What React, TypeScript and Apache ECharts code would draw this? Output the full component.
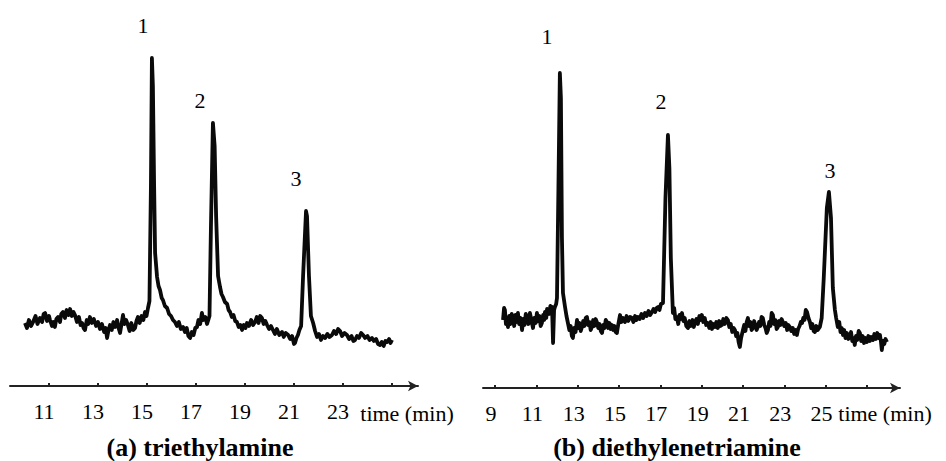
import React, { useEffect, useRef } from "react";
import * as echarts from "echarts";

// Panel (a) triethylamine: [retention time (min), detector signal (arb. units)]
const traceA: number[][] = [
  [10.02, 63], [10.1, 58], [10.18, 66], [10.27, 60], [10.35, 64], [10.45, 70], [10.53, 62], [10.63, 68],
  [10.72, 64], [10.78, 72], [10.84, 73], [10.92, 65], [11.0, 70], [11.04, 66], [11.12, 60], [11.18, 64],
  [11.24, 59], [11.3, 67], [11.37, 69], [11.45, 64], [11.5, 72], [11.57, 74], [11.65, 68], [11.72, 76],
  [11.8, 71], [11.86, 77], [11.93, 70], [12.0, 74], [12.06, 71], [12.14, 64], [12.22, 69], [12.29, 61],
  [12.35, 63], [12.41, 58], [12.47, 56], [12.54, 66], [12.6, 62], [12.67, 69], [12.75, 63], [12.83, 67],
  [12.92, 60], [13.0, 64], [13.08, 57], [13.16, 62], [13.25, 54], [13.31, 58], [13.37, 48], [13.43, 56],
  [13.49, 61], [13.56, 56], [13.63, 64], [13.7, 59], [13.78, 66], [13.84, 58], [13.9, 53], [13.96, 62],
  [14.02, 71], [14.08, 62], [14.15, 66], [14.22, 61], [14.29, 55], [14.36, 63], [14.44, 56], [14.51, 58],
  [14.57, 65], [14.63, 69], [14.7, 63], [14.78, 70], [14.85, 66], [14.92, 74], [14.98, 70], [15.04, 78],
  [15.1, 85], [15.16, 200], [15.2, 328], [15.24, 300], [15.29, 200], [15.33, 133], [15.41, 109], [15.47, 100],
  [15.53, 96], [15.6, 88], [15.65, 86], [15.73, 80], [15.82, 78], [15.9, 72], [15.98, 70], [16.06, 66],
  [16.14, 64], [16.22, 60], [16.3, 64], [16.38, 57], [16.47, 59], [16.55, 54], [16.62, 58], [16.69, 50],
  [16.76, 48], [16.83, 54], [16.9, 51], [16.97, 58], [17.04, 59], [17.1, 66], [17.17, 62], [17.24, 73],
  [17.3, 66], [17.38, 69], [17.45, 62], [17.55, 70], [17.61, 160], [17.69, 263], [17.76, 240], [17.82, 170],
  [17.9, 110], [17.98, 99], [18.04, 92], [18.1, 89], [18.18, 84], [18.27, 82], [18.33, 76], [18.39, 74],
  [18.46, 69], [18.53, 71], [18.6, 65], [18.67, 64], [18.74, 59], [18.81, 61], [18.88, 56], [18.95, 61],
  [19.02, 58], [19.08, 63], [19.16, 60], [19.25, 66], [19.33, 61], [19.41, 64], [19.48, 69], [19.55, 63],
  [19.62, 70], [19.69, 68], [19.76, 62], [19.83, 65], [19.9, 61], [19.98, 57], [20.06, 60], [20.14, 56],
  [20.22, 52], [20.3, 57], [20.4, 51], [20.51, 54], [20.58, 49], [20.66, 53], [20.76, 51], [20.84, 47],
  [20.92, 50], [21.0, 42], [21.04, 43], [21.1, 48], [21.16, 51], [21.22, 56], [21.29, 60], [21.37, 110],
  [21.49, 175], [21.53, 170], [21.61, 110], [21.69, 70], [21.78, 63], [21.86, 55], [21.94, 49], [22.02, 52],
  [22.1, 46], [22.18, 50], [22.27, 48], [22.36, 52], [22.45, 49], [22.55, 51], [22.63, 55], [22.72, 52],
  [22.8, 57], [22.88, 55], [22.96, 50], [23.06, 53], [23.16, 51], [23.25, 47], [23.35, 50], [23.42, 45],
  [23.49, 46], [23.57, 50], [23.65, 48], [23.74, 53], [23.82, 51], [23.9, 48], [24.0, 50], [24.08, 46],
  [24.18, 48], [24.26, 45], [24.35, 47], [24.43, 42], [24.51, 41], [24.58, 44], [24.66, 40], [24.73, 45],
  [24.8, 44], [24.88, 47], [24.94, 43], [25.0, 46],
];

// Panel (b) diethylenetriamine
const traceB: number[][] = [
  [9.39, 68], [9.44, 80], [9.48, 78], [9.53, 64], [9.58, 70], [9.63, 61], [9.69, 72], [9.75, 64],
  [9.81, 74], [9.87, 68], [9.93, 62], [9.99, 73], [10.05, 66], [10.11, 75], [10.17, 64], [10.24, 70],
  [10.31, 58], [10.37, 69], [10.43, 63], [10.49, 74], [10.55, 71], [10.62, 64], [10.69, 75], [10.76, 68],
  [10.84, 60], [10.9, 70], [10.97, 65], [11.03, 75], [11.09, 67], [11.15, 72], [11.21, 62], [11.27, 65],
  [11.33, 73], [11.38, 68], [11.42, 76], [11.48, 70], [11.52, 79], [11.56, 78], [11.62, 74], [11.68, 82],
  [11.74, 77], [11.76, 81], [11.81, 45], [11.86, 78], [11.9, 81], [11.96, 84], [12.0, 90], [12.07, 200],
  [12.14, 315], [12.19, 290], [12.24, 150], [12.29, 95], [12.34, 88], [12.39, 81], [12.46, 72], [12.53, 65],
  [12.6, 58], [12.66, 62], [12.72, 52], [12.77, 50], [12.83, 60], [12.9, 56], [12.97, 68], [13.03, 60],
  [13.09, 65], [13.15, 57], [13.21, 61], [13.27, 67], [13.33, 62], [13.39, 70], [13.45, 71], [13.51, 63],
  [13.57, 66], [13.63, 58], [13.69, 61], [13.75, 68], [13.81, 62], [13.87, 69], [13.93, 66], [14.0, 60],
  [14.06, 64], [14.12, 57], [14.18, 55], [14.24, 63], [14.3, 60], [14.36, 68], [14.42, 66], [14.48, 60],
  [14.54, 65], [14.6, 59], [14.66, 63], [14.72, 58], [14.78, 62], [14.84, 56], [14.9, 55], [14.97, 64],
  [15.05, 73], [15.12, 66], [15.2, 70], [15.29, 66], [15.37, 72], [15.45, 67], [15.54, 71], [15.63, 70],
  [15.7, 66], [15.78, 72], [15.85, 68], [15.92, 71], [16.0, 69], [16.09, 74], [16.17, 70], [16.26, 75],
  [16.34, 72], [16.43, 77], [16.51, 73], [16.6, 76], [16.67, 79], [16.75, 76], [16.82, 80], [16.89, 81],
  [16.96, 78], [17.03, 84], [17.13, 85], [17.25, 190], [17.37, 253], [17.44, 220], [17.51, 130], [17.61, 75],
  [17.67, 80], [17.73, 69], [17.8, 71], [17.87, 64], [17.93, 73], [17.99, 69], [18.05, 75], [18.12, 67],
  [18.18, 70], [18.26, 62], [18.34, 60], [18.41, 67], [18.48, 62], [18.56, 68], [18.62, 61], [18.68, 65],
  [18.75, 69], [18.82, 64], [18.89, 72], [18.95, 68], [19.01, 73], [19.08, 66], [19.15, 70], [19.22, 63],
  [19.3, 65], [19.37, 60], [19.44, 66], [19.5, 59], [19.57, 64], [19.64, 61], [19.71, 66], [19.78, 60],
  [19.85, 67], [19.91, 62], [19.98, 63], [20.05, 69], [20.12, 64], [20.2, 70], [20.27, 68], [20.34, 61],
  [20.41, 64], [20.48, 56], [20.55, 60], [20.61, 58], [20.67, 52], [20.73, 55], [20.79, 46], [20.85, 41],
  [20.91, 50], [21.0, 58], [21.06, 63], [21.12, 57], [21.18, 66], [21.24, 70], [21.3, 62], [21.36, 66],
  [21.42, 58], [21.48, 60], [21.54, 67], [21.6, 63], [21.66, 58], [21.72, 61], [21.78, 66], [21.84, 62],
  [21.9, 71], [21.96, 70], [22.03, 63], [22.09, 60], [22.15, 55], [22.21, 58], [22.27, 66], [22.33, 62],
  [22.39, 75], [22.45, 73], [22.51, 64], [22.57, 68], [22.63, 59], [22.69, 61], [22.75, 67], [22.81, 63],
  [22.87, 69], [22.93, 66], [23.0, 62], [23.07, 65], [23.14, 58], [23.2, 63], [23.27, 61], [23.34, 57],
  [23.41, 60], [23.48, 54], [23.55, 58], [23.61, 53], [23.67, 59], [23.74, 62], [23.8, 66], [23.86, 65],
  [23.92, 70], [23.98, 68], [24.04, 78], [24.1, 76], [24.17, 70], [24.24, 66], [24.3, 60], [24.36, 64],
  [24.42, 57], [24.48, 56], [24.55, 62], [24.62, 58], [24.72, 61], [24.81, 70], [24.91, 110], [25.06, 180],
  [25.16, 196], [25.26, 170], [25.35, 100], [25.45, 78], [25.51, 70], [25.59, 61], [25.66, 66], [25.72, 56],
  [25.78, 60], [25.84, 53], [25.9, 58], [25.96, 50], [26.03, 55], [26.1, 49], [26.17, 51], [26.23, 56],
  [26.29, 47], [26.35, 50], [26.41, 43], [26.47, 52], [26.53, 48], [26.6, 57], [26.66, 55], [26.72, 47],
  [26.79, 52], [26.86, 45], [26.93, 50], [27.0, 46], [27.07, 52], [27.14, 47], [27.21, 51], [27.29, 48],
  [27.36, 54], [27.43, 49], [27.5, 55], [27.56, 50], [27.63, 53], [27.68, 46], [27.72, 38], [27.78, 47],
  [27.84, 44], [27.9, 49], [27.97, 46],
];

const ticksA = [11, 13, 15, 17, 19, 21, 23, 25];
const labelsA = [11, 13, 15, 17, 19, 21, 23];
const ticksB = [9, 11, 13, 15, 17, 19, 21, 23, 25, 27];
const labelsB = [9, 11, 13, 15, 17, 19, 21, 23, 25];

const peakLabels = ["1", "2", "3"];
const axisName = "time (min)";
const titleA = "(a) triethylamine";
const titleB = "(b) diethylenetriamine";

const FONT = "Liberation Serif";

export default function App() {
  const ref = useRef<HTMLDivElement>(null);
  useEffect(() => {
    if (!ref.current) return;
    const chart = echarts.init(ref.current, null, { renderer: "svg" });
    const xAxisCommon = (ticks: number[], labels: number[], pad: number) => ({
      type: "value",
      axisLine: {
        show: true,
        onZero: false,
        symbol: ["none", "arrow"],
        symbolSize: [8, 10],
        lineStyle: { color: "#222", width: 2 },
      },
      axisTick: {
        show: true,
        customValues: ticks,
        inside: true,
        length: 3,
        lineStyle: { color: "#222", width: 2 },
      },
      axisLabel: {
        show: true,
        customValues: labels,
        margin: 14,
        color: "#000",
        fontFamily: FONT,
        fontSize: 22,
        padding: [0, pad, 0, 0],
      },
      splitLine: { show: false },
    });
    const seriesCommon = {
      type: "line",
      showSymbol: false,
      smooth: false,
      lineStyle: { color: "#0a0a0a", width: 3.8, join: "round" },
      silent: true,
    };
    const txt = (x: number, y: number, s: string, size: number, bold = false) => ({
      type: "text",
      x,
      y,
      style: {
        text: s,
        fontFamily: FONT,
        fontSize: size,
        fontWeight: bold ? "bold" : "normal",
        fill: "#000",
        align: "center",
        verticalAlign: "middle",
      },
    });
    chart.setOption({
      animation: false,
      backgroundColor: "#fff",
      textStyle: { fontFamily: FONT },
      grid: [
        { left: 10, top: 6, width: 408, height: 380 },
        { left: 483, top: 8, width: 417, height: 380 },
      ],
      xAxis: [
        { ...xAxisCommon(ticksA, labelsA, 10), gridIndex: 0, min: 9.408, max: 26.06 },
        { ...xAxisCommon(ticksB, labelsB, 8), gridIndex: 1, min: 8.42, max: 28.6 },
      ],
      yAxis: [
        { type: "value", gridIndex: 0, min: 0, max: 380, show: false },
        { type: "value", gridIndex: 1, min: 0, max: 380, show: false },
      ],
      series: [
        { ...seriesCommon, xAxisIndex: 0, yAxisIndex: 0, data: traceA },
        { ...seriesCommon, xAxisIndex: 1, yAxisIndex: 1, data: traceB },
      ],
      graphic: [
        txt(143, 25, peakLabels[0], 22),
        txt(200, 100, peakLabels[1], 22),
        txt(296, 178, peakLabels[2], 22),
        txt(547, 36, peakLabels[0], 22),
        txt(661, 101, peakLabels[1], 22),
        txt(830, 170, peakLabels[2], 22),
        txt(407, 413, axisName, 22),
        txt(885, 413, axisName, 22),
        txt(200, 447, titleA, 26, true),
        txt(677, 447, titleB, 26, true),
      ],
    });
    return () => chart.dispose();
  }, []);
  return (
    <div
      ref={ref}
      style={{ position: "fixed", left: 0, top: 0, width: 946, height: 461, background: "#fff" }}
    />
  );
}
